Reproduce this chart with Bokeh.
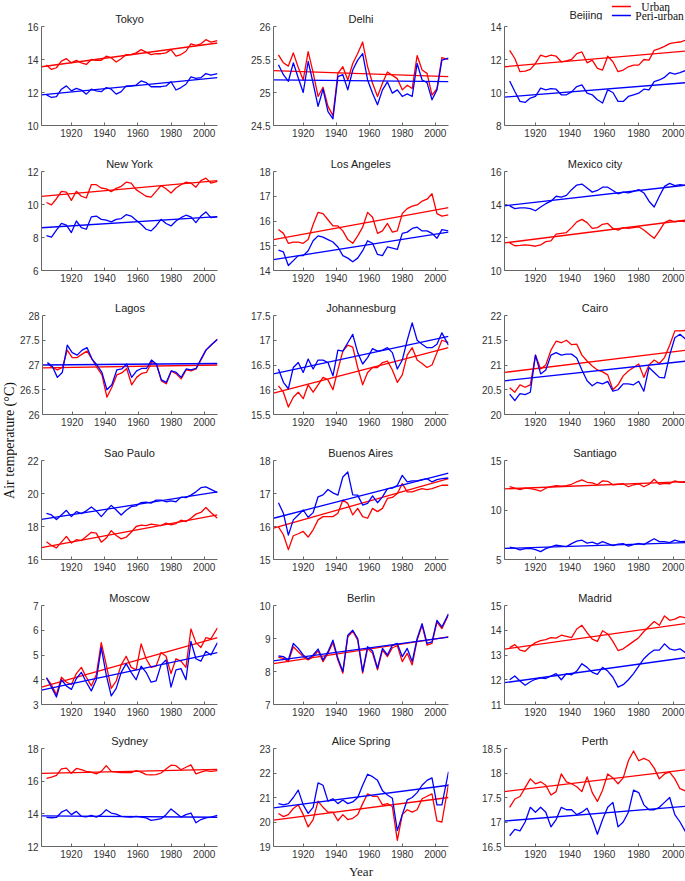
from math import pi
from bokeh.plotting import figure
from bokeh.layouts import row, column
from bokeh.models import FixedTicker, NumeralTickFormatter, Label, Range1d
from bokeh.core.properties import value
from bokeh.embed import file_html
from bokeh.resources import INLINE

# ---------------- data ----------------
years = [1905, 1908, 1911, 1914, 1917, 1920, 1923, 1926, 1929, 1932, 1935, 1938,
         1941, 1944, 1947, 1950, 1953, 1956, 1959, 1962, 1965, 1968, 1971, 1974,
         1977, 1980, 1983, 1986, 1989, 1992, 1995, 1998, 2001, 2004, 2008]
trend_years = [1902, 2008]
x_ticks = [1920, 1940, 1960, 1980, 2000]
series_labels = ["Urban", "Peri-urban"]

tokyo_urban = [13.66, 13.4, 13.5, 13.9, 14.05, 13.8, 13.95, 13.8, 13.7, 14.0, 13.95, 13.95, 14.2, 14.1, 13.85, 14.05, 14.3, 14.3, 14.4, 14.6, 14.45, 14.3, 14.35, 14.35, 14.4, 14.6, 14.2, 14.3, 14.5, 14.95, 14.85, 14.95, 15.2, 15.05, 15.15]
tokyo_peri = [11.86, 11.7, 11.75, 12.2, 12.4, 12.1, 12.25, 12.15, 11.9, 12.2, 12.1, 12.05, 12.3, 12.2, 11.9, 12.05, 12.4, 12.4, 12.45, 12.7, 12.6, 12.35, 12.35, 12.35, 12.4, 12.65, 12.15, 12.3, 12.5, 12.95, 12.85, 12.9, 13.15, 13.05, 13.15]
tokyo_trend_urban = [13.56, 15.0]
tokyo_trend_peri = [11.86, 12.9]

delhi_urban = [25.57, 25.45, 25.4, 25.6, 25.38, 25.19, 25.62, 25.3, 24.94, 25.08, 24.79, 24.65, 25.29, 25.39, 25.19, 25.44, 25.59, 25.765, 25.39, 25.14, 24.94, 25.14, 25.31, 25.26, 25.21, 25.04, 25.11, 25.06, 25.56, 25.34, 25.29, 24.96, 25.06, 25.53, 25.5]
delhi_peri = [25.42, 25.27, 25.17, 25.45, 25.22, 25.0, 25.47, 25.14, 24.79, 25.05, 24.71, 24.6, 25.24, 25.27, 25.04, 25.34, 25.49, 25.59, 25.19, 24.99, 24.815, 25.04, 25.16, 24.99, 25.04, 24.94, 24.98, 24.94, 25.44, 25.19, 25.15, 24.89, 25.04, 25.49, 25.52]
delhi_trend_urban = [25.33, 25.24]
delhi_trend_peri = [25.19, 25.165]

beijing_urban = [12.55, 12.06, 11.26, 11.3, 11.4, 11.76, 12.26, 12.16, 12.26, 12.2, 11.86, 11.92, 12.0, 12.36, 12.46, 11.8, 11.96, 11.46, 11.36, 12.2, 11.86, 11.26, 11.36, 11.56, 11.66, 11.66, 12.0, 11.96, 12.56, 12.66, 12.8, 12.96, 13.02, 13.06, 13.2]
beijing_peri = [10.7, 10.06, 9.46, 9.4, 9.66, 9.76, 10.26, 10.16, 10.24, 10.2, 9.86, 9.86, 10.04, 10.36, 10.46, 9.96, 9.86, 9.56, 9.36, 10.16, 10.0, 9.46, 9.46, 9.76, 9.86, 9.96, 10.2, 10.16, 10.66, 10.76, 10.92, 11.2, 11.12, 11.2, 11.36]
beijing_trend_urban = [11.56, 12.52]
beijing_trend_peri = [9.72, 10.6]

newyork_urban = [10.12, 9.98, 10.35, 10.8, 10.75, 10.25, 10.8, 10.5, 10.4, 11.2, 11.2, 11.0, 10.95, 10.78, 10.98, 11.1, 11.35, 11.3, 10.9, 10.7, 10.5, 10.45, 10.8, 11.15, 10.95, 10.7, 11.0, 11.2, 11.35, 11.3, 11.05, 11.45, 11.6, 11.3, 11.4]
newyork_peri = [8.12, 8.02, 8.45, 8.85, 8.75, 8.3, 9.0, 8.6, 8.5, 9.25, 9.3, 9.1, 9.05, 8.95, 9.1, 9.15, 9.38, 9.3, 9.05, 8.8, 8.5, 8.4, 8.7, 9.1, 8.85, 8.7, 9.0, 9.2, 9.35, 9.25, 8.9, 9.3, 9.55, 9.2, 9.25]
newyork_trend_urban = [10.49, 11.45]
newyork_trend_peri = [8.59, 9.27]

losangeles_urban = [15.66, 15.5, 15.1, 15.15, 15.15, 15.1, 15.25, 15.86, 16.35, 16.3, 16.05, 15.8, 15.8, 15.6, 15.25, 15.1, 15.4, 15.75, 16.35, 16.15, 15.5, 15.6, 15.9, 15.55, 15.6, 16.3, 16.5, 16.6, 16.65, 16.8, 16.88, 17.1, 16.3, 16.2, 16.25]
losangeles_peri = [14.82, 14.75, 14.2, 14.4, 14.6, 14.6, 14.8, 15.2, 15.4, 15.35, 15.25, 15.15, 14.95, 14.6, 14.5, 14.35, 14.5, 14.8, 15.2, 15.1, 14.65, 14.6, 14.95, 14.9, 14.85, 15.5, 15.55, 15.7, 15.75, 15.6, 15.6, 15.5, 15.3, 15.65, 15.6]
losangeles_trend_urban = [15.25, 16.54]
losangeles_trend_peri = [14.44, 15.55]

mexico_urban = [11.67, 11.5, 11.52, 11.55, 11.52, 11.47, 11.55, 11.75, 11.8, 12.2, 12.25, 12.3, 12.6, 12.95, 13.1, 12.9, 12.55, 12.6, 12.8, 12.85, 12.55, 12.45, 12.6, 12.55, 12.6, 12.65, 12.45, 12.2, 11.95, 12.4, 12.9, 13.05, 12.95, 13.0, 12.95]
mexico_peri = [13.92, 13.75, 13.8, 13.8, 13.75, 13.62, 13.85, 14.05, 14.2, 14.5, 14.45, 14.55, 14.9, 15.18, 15.24, 15.0, 14.75, 14.85, 15.05, 15.05, 14.85, 14.65, 14.75, 14.7, 14.8, 14.9, 14.7, 14.2, 13.85, 14.5, 15.1, 15.28, 15.15, 15.2, 15.15]
mexico_trend_urban = [11.67, 13.06]
mexico_trend_peri = [13.92, 15.18]

lagos_urban = [27.03, 26.95, 26.9, 26.95, 27.3, 27.15, 27.15, 27.22, 27.28, 27.12, 26.95, 26.8, 26.35, 26.55, 26.8, 26.84, 26.93, 26.6, 26.75, 26.83, 26.85, 27.05, 27.02, 26.68, 26.62, 26.88, 26.82, 26.72, 26.9, 26.88, 26.92, 27.1, 27.3, 27.4, 27.52]
lagos_peri = [27.05, 26.97, 26.75, 26.85, 27.4, 27.25, 27.2, 27.3, 27.35, 27.12, 27.0, 26.85, 26.5, 26.6, 26.9, 26.92, 27.02, 26.75, 26.88, 26.93, 26.93, 27.1, 27.02, 26.7, 26.65, 26.88, 26.85, 26.75, 26.92, 26.9, 26.93, 27.12, 27.3, 27.4, 27.52]
lagos_trend_urban = [26.94, 27.0]
lagos_trend_peri = [27.0, 27.03]

johannesburg_urban = [16.08, 15.95, 15.65, 15.85, 15.95, 15.82, 16.1, 15.95, 16.1, 16.25, 16.2, 16.0, 16.4, 16.78, 16.9, 16.86, 16.45, 16.1, 16.35, 16.45, 16.45, 16.55, 16.58, 16.4, 16.15, 16.3, 16.7, 16.85, 16.6, 16.53, 16.45, 16.5, 16.75, 17.0, 16.95]
johannesburg_peri = [16.42, 16.15, 16.02, 16.45, 16.55, 16.35, 16.62, 16.42, 16.6, 16.6, 16.55, 16.28, 16.8, 16.78, 16.95, 17.12, 16.75, 16.52, 16.65, 16.83, 16.78, 16.8, 16.85, 16.75, 16.42, 16.6, 17.0, 17.35, 17.0, 16.92, 16.85, 16.85, 16.92, 17.15, 16.9]
johannesburg_trend_urban = [15.93, 16.85]
johannesburg_trend_peri = [16.32, 17.08]

cairo_urban = [20.54, 20.45, 20.6, 20.55, 20.6, 21.2, 20.92, 21.0, 21.3, 21.48, 21.45, 21.5, 21.41, 21.42, 21.2, 21.08, 20.98, 20.9, 20.86, 20.8, 20.5, 20.6, 20.78, 20.88, 20.95, 21.02, 20.75, 21.0, 21.1, 21.03, 21.15, 21.4, 21.69, 21.69, 21.7]
cairo_peri = [20.41, 20.28, 20.42, 20.4, 20.45, 21.2, 20.82, 20.9, 21.2, 21.25, 21.2, 21.22, 21.22, 21.14, 20.9, 20.68, 20.58, 20.65, 20.62, 20.67, 20.47, 20.5, 20.62, 20.62, 20.6, 20.67, 20.47, 20.95, 20.85, 20.75, 20.74, 21.2, 21.55, 21.62, 21.5]
cairo_trend_urban = [20.85, 21.3]
cairo_trend_peri = [20.68, 21.08]

saopaulo_urban = [17.07, 16.85, 16.7, 17.05, 17.4, 17.0, 17.2, 17.15, 17.4, 17.65, 17.6, 17.05, 17.3, 17.75, 17.45, 17.25, 17.35, 17.65, 18.0, 18.08, 18.05, 18.15, 18.1, 18.05, 18.2, 18.1, 18.18, 18.38, 18.3, 18.5, 18.75, 18.85, 19.15, 18.85, 18.5]
saopaulo_peri = [18.8, 18.7, 18.42, 18.7, 18.98, 18.6, 18.9, 18.78, 18.95, 19.18, 18.95, 18.6, 18.95, 19.28, 19.0, 18.7, 18.98, 19.2, 19.25, 19.45, 19.48, 19.42, 19.6, 19.6, 19.5, 19.55, 19.5, 19.78, 19.75, 19.9, 20.1, 20.35, 20.4, 20.25, 20.05]
saopaulo_trend_urban = [16.72, 18.7]
saopaulo_trend_peri = [18.43, 20.1]

buenosaires_urban = [15.99, 15.75, 15.3, 15.72, 15.78, 15.85, 15.68, 15.9, 16.2, 16.3, 16.3, 16.3, 16.4, 16.8, 16.7, 16.35, 16.55, 16.3, 16.25, 16.55, 16.45, 16.55, 16.85, 16.88, 17.0, 17.3, 17.05, 17.05, 17.1, 17.15, 17.12, 17.15, 17.2, 17.25, 17.25]
buenosaires_peri = [16.72, 16.4, 15.74, 16.2, 16.35, 16.5, 16.28, 16.42, 16.9, 16.96, 17.12, 17.02, 16.95, 17.5, 17.65, 16.96, 16.95, 16.65, 16.7, 16.93, 16.72, 16.9, 17.15, 17.16, 17.25, 17.55, 17.35, 17.38, 17.38, 17.42, 17.45, 17.35, 17.42, 17.45, 17.47]
buenosaires_trend_urban = [15.95, 17.45]
buenosaires_trend_peri = [16.25, 17.62]

santiago_urban = [12.36, 12.2, 12.05, 12.2, 12.15, 12.05, 11.9, 12.2, 12.35, 12.45, 12.4, 12.45, 12.6, 12.85, 13.05, 12.8, 12.75, 12.55, 12.95, 12.9, 12.55, 12.6, 12.65, 12.35, 12.55, 12.65, 12.35, 12.6, 13.1, 12.6, 12.7, 12.65, 12.95, 12.8, 12.8]
santiago_peri = [6.25, 6.15, 5.98, 6.1, 6.12, 6.0, 5.8, 6.1, 6.28, 6.45, 6.38, 6.3, 6.6, 6.85, 6.95, 6.65, 6.75, 6.55, 6.8, 6.6, 6.4, 6.55, 6.6, 6.35, 6.5, 6.62, 6.5, 6.8, 7.1, 6.8, 6.8, 6.7, 6.95, 6.8, 6.85]
santiago_trend_urban = [12.13, 12.87]
santiago_trend_peri = [6.12, 6.72]

moscow_urban = [4.08, 3.8, 3.4, 4.1, 3.9, 3.81, 4.25, 4.5, 4.1, 3.75, 4.2, 5.5, 4.6, 3.65, 3.95, 4.6, 4.95, 4.5, 4.4, 5.45, 4.85, 4.5, 4.55, 5.1, 4.95, 4.25, 4.85, 4.75, 4.5, 6.05, 5.5, 5.3, 5.7, 5.65, 6.1]
moscow_peri = [4.08, 3.7, 3.3, 4.0, 3.75, 3.61, 4.05, 4.3, 3.9, 3.55, 4.0, 5.3, 4.2, 3.35, 3.65, 4.3, 4.65, 4.3, 4.0, 4.55, 4.3, 3.9, 3.95, 4.6, 4.8, 3.7, 4.4, 4.45, 4.0, 5.55, 4.85, 4.75, 5.15, 5.0, 5.5]
moscow_trend_urban = [3.7, 5.7]
moscow_trend_peri = [3.58, 5.1]

berlin_urban = [8.43, 8.4, 8.3, 8.75, 8.6, 8.45, 8.35, 8.45, 8.62, 8.3, 8.55, 8.88, 8.35, 7.95, 9.05, 9.22, 8.95, 7.95, 8.7, 8.55, 8.05, 8.65, 8.45, 8.72, 8.78, 8.3, 8.55, 8.2, 8.95, 9.4, 8.8, 8.85, 9.5, 9.3, 9.72]
berlin_peri = [8.47, 8.45, 8.35, 8.85, 8.7, 8.5, 8.38, 8.5, 8.68, 8.35, 8.6, 8.95, 8.4, 8.0, 9.1, 9.25, 9.0, 8.0, 8.75, 8.62, 8.1, 8.7, 8.5, 8.8, 8.85, 8.45, 8.7, 8.3, 9.0, 9.45, 8.85, 8.9, 9.55, 9.35, 9.75]
berlin_trend_urban = [8.24, 9.05]
berlin_trend_peri = [8.32, 9.04]

madrid_urban = [13.3, 13.42, 13.2, 13.15, 13.35, 13.5, 13.58, 13.62, 13.7, 13.68, 13.8, 13.75, 13.7, 14.05, 14.2, 13.9, 13.64, 13.55, 13.98, 13.85, 13.55, 13.18, 13.25, 13.4, 13.55, 13.7, 13.95, 14.15, 14.35, 14.2, 14.58, 14.4, 14.45, 14.55, 14.5]
madrid_peri = [12.0, 12.15, 11.95, 11.78, 11.92, 12.02, 12.08, 12.05, 12.15, 12.25, 12.0, 12.25, 12.2, 12.35, 12.65, 12.5, 12.3, 12.22, 12.5, 12.35, 12.1, 11.7, 11.8, 12.0, 12.25, 12.55, 12.85, 13.05, 13.2, 13.2, 13.45, 13.25, 13.2, 13.25, 13.05]
madrid_trend_urban = [13.24, 14.28]
madrid_trend_peri = [11.88, 12.9]

sydney_urban = [16.17, 16.25, 16.35, 16.75, 16.8, 16.48, 16.78, 16.7, 16.6, 16.55, 16.45, 16.6, 16.95, 16.6, 16.55, 16.52, 16.52, 16.52, 16.65, 16.55, 16.4, 16.38, 16.4, 16.5, 16.75, 16.98, 16.95, 16.7, 16.85, 17.0, 16.45, 16.55, 16.65, 16.6, 16.65]
sydney_peri = [13.78, 13.76, 13.78, 14.1, 14.25, 13.95, 14.15, 13.85, 13.82, 13.9, 13.8, 13.95, 14.25, 14.05, 13.98, 13.85, 13.82, 13.8, 13.85, 13.8, 13.75, 13.6, 13.65, 13.7, 13.95, 14.3, 14.05, 13.8, 13.95, 14.05, 13.45, 13.65, 13.75, 13.8, 13.9]
sydney_trend_urban = [16.48, 16.72]
sydney_trend_peri = [13.87, 13.79]

alice_urban = [20.35, 20.22, 20.3, 20.55, 20.7, 20.3, 19.8, 20.1, 20.85, 20.6, 20.4, 20.4, 20.05, 20.3, 20.1, 20.15, 20.3, 20.75, 21.15, 21.05, 21.05, 20.7, 20.75, 20.63, 19.25, 20.3, 20.5, 20.4, 20.5, 20.95, 21.05, 21.15, 20.05, 20.0, 21.55]
alice_peri = [20.75, 20.7, 20.75, 21.0, 21.3, 20.7, 20.35, 20.6, 21.6, 21.5, 20.85, 20.95, 20.75, 20.9, 20.75, 20.82, 21.0, 21.5, 21.95, 21.85, 21.7, 21.28, 21.1, 20.97, 19.65, 20.3, 20.9, 21.0, 21.2, 21.5, 21.7, 21.8, 20.7, 20.7, 22.05]
alice_trend_urban = [20.08, 21.0]
alice_trend_peri = [20.58, 21.5]

perth_urban = [17.3, 17.47, 17.52, 17.7, 17.88, 17.78, 17.82, 17.75, 17.55, 17.62, 17.98, 17.82, 17.78, 17.72, 17.62, 17.92, 17.6, 17.42, 17.65, 17.98, 17.9, 17.78, 17.9, 18.25, 18.45, 18.25, 18.3, 18.25, 18.1, 17.88, 17.98, 18.02, 17.88, 17.68, 17.62]
perth_peri = [16.72, 16.85, 16.82, 17.0, 17.3, 17.2, 17.3, 17.2, 16.9, 17.05, 17.3, 17.25, 17.25, 17.15, 17.2, 17.28, 17.05, 16.75, 17.05, 17.3, 17.4, 16.9, 17.0, 17.2, 17.65, 17.6, 17.35, 17.25, 17.25, 17.3, 17.4, 17.5, 17.15, 17.0, 16.75]
perth_trend_urban = [17.62, 18.07]
perth_trend_peri = [17.02, 17.32]

city_names = ["Tokyo", "Delhi", "Beijing", "New York", "Los Angeles", "Mexico city",
              "Lagos", "Johannesburg", "Cairo", "Sao Paulo", "Buenos Aires", "Santiago",
              "Moscow", "Berlin", "Madrid", "Sydney", "Alice Spring", "Perth"]
urban_series = [tokyo_urban, delhi_urban, beijing_urban, newyork_urban, losangeles_urban, mexico_urban,
                lagos_urban, johannesburg_urban, cairo_urban, saopaulo_urban, buenosaires_urban, santiago_urban,
                moscow_urban, berlin_urban, madrid_urban, sydney_urban, alice_urban, perth_urban]
peri_series = [tokyo_peri, delhi_peri, beijing_peri, newyork_peri, losangeles_peri, mexico_peri,
               lagos_peri, johannesburg_peri, cairo_peri, saopaulo_peri, buenosaires_peri, santiago_peri,
               moscow_peri, berlin_peri, madrid_peri, sydney_peri, alice_peri, perth_peri]
urban_trends = [tokyo_trend_urban, delhi_trend_urban, beijing_trend_urban, newyork_trend_urban,
                losangeles_trend_urban, mexico_trend_urban, lagos_trend_urban, johannesburg_trend_urban,
                cairo_trend_urban, saopaulo_trend_urban, buenosaires_trend_urban, santiago_trend_urban,
                moscow_trend_urban, berlin_trend_urban, madrid_trend_urban, sydney_trend_urban,
                alice_trend_urban, perth_trend_urban]
peri_trends = [tokyo_trend_peri, delhi_trend_peri, beijing_trend_peri, newyork_trend_peri,
               losangeles_trend_peri, mexico_trend_peri, lagos_trend_peri, johannesburg_trend_peri,
               cairo_trend_peri, saopaulo_trend_peri, buenosaires_trend_peri, santiago_trend_peri,
               moscow_trend_peri, berlin_trend_peri, madrid_trend_peri, sydney_trend_peri,
               alice_trend_peri, perth_trend_peri]
y_ticks = [[10, 12, 14, 16], [24.5, 25, 25.5, 26], [8, 10, 12, 14],
           [6, 8, 10, 12], [14, 15, 16, 17, 18], [10, 12, 14, 16],
           [26, 26.5, 27, 27.5, 28], [15.5, 16, 16.5, 17, 17.5], [20, 20.5, 21, 21.5, 22],
           [16, 18, 20, 22], [15, 16, 17, 18], [5, 10, 15],
           [3, 4, 5, 6, 7], [7, 8, 9, 10], [11, 12, 13, 14, 15],
           [12, 14, 16, 18], [19, 20, 21, 22, 23], [16.5, 17, 17.5, 18, 18.5]]

# ---------------- layout geometry (pixels) ----------------
ylab_width = 17
col_width = [228, 231, 209]
col_left = [24, 28, 28]
col_right = [28, 28, 0]
col_xend = [2008, 2008, 2007.2]
row_height = [145, 145, 144, 145, 144, 158]
row_top = [26, 26, 25, 26, 26, 25]
FRAME_H = 99
LEGEND_H = 20          # strip above the Beijing panel holding its title and the legend

RED = "#ff0000"
BLUE = "#0000ff"
AXIS = "#666666"
TXT = "#222222"


def make_panel(i, c, width, height, top, bottom, with_title=True):
    ticks = y_ticks[i]
    p = figure(width=width, height=height,
               x_range=Range1d(1902, col_xend[c]),
               y_range=Range1d(ticks[0], ticks[-1]),
               toolbar_location=None, output_backend="svg",
               min_border_left=col_left[c], min_border_right=col_right[c],
               min_border_top=top, min_border_bottom=bottom)
    if with_title:
        p.title.text = city_names[i]
        p.title.align = "center"
        p.title.text_font = "Liberation Sans"
        p.title.text_font_size = "11px"
        p.title.text_font_style = "normal"
        p.title.text_color = TXT
        p.title.standoff = 4
    p.outline_line_color = None
    p.xgrid.visible = False
    p.ygrid.visible = False
    p.line(years, urban_series[i], line_color=RED, line_width=1.3, line_join="round")
    p.line(trend_years, urban_trends[i], line_color=RED, line_width=1.3)
    p.line(years, peri_series[i], line_color=BLUE, line_width=1.3, line_join="round")
    p.line(trend_years, peri_trends[i], line_color=BLUE, line_width=1.3)
    p.xaxis.ticker = FixedTicker(ticks=x_ticks)
    p.yaxis.ticker = FixedTicker(ticks=ticks)
    p.yaxis.formatter = NumeralTickFormatter(format="0.[0]")
    for ax in (p.xaxis[0], p.yaxis[0]):
        ax.axis_line_color = AXIS
        ax.major_tick_line_color = AXIS
        ax.major_tick_in = 3
        ax.major_tick_out = 0
        ax.minor_tick_line_color = None
        ax.major_label_text_font = "Liberation Sans"
        ax.major_label_text_font_size = "10px"
        ax.major_label_text_color = "#333333"
        ax.major_label_standoff = 3
    return p


grid_rows = []
for r in range(6):
    cells = []
    for c in range(3):
        i = r * 3 + c
        bottom = row_height[r] - row_top[r] - FRAME_H
        if i == 2:
            # Beijing: title + legend live in a strip figure above the panel
            strip = figure(width=col_width[c], height=LEGEND_H,
                           x_range=Range1d(0, col_width[c]), y_range=Range1d(LEGEND_H, 0),
                           toolbar_location=None, output_backend="svg", min_border=0)
            strip.axis.visible = False
            strip.xgrid.visible = False
            strip.ygrid.visible = False
            strip.outline_line_color = None
            strip.segment(x0=[124, 124], y0=[6, 15], x1=[146, 146], y1=[6, 15],
                          line_color=[RED, BLUE], line_width=1.3)
            strip.text(x=[158, 151], y=[6, 15], text=series_labels,
                       text_font=value("Liberation Serif"), text_font_size="11.5px",
                       text_baseline="middle", text_align="left", text_color="#111111")
            strip.add_layout(Label(x=94, y=14, text=city_names[i], text_align="center",
                                   text_baseline="middle", text_font="Liberation Sans",
                                   text_font_size="11px", text_color=TXT))
            p = make_panel(i, c, col_width[c], row_height[r] - LEGEND_H,
                           row_top[r] - LEGEND_H, bottom, with_title=False)
            cells.append(column(strip, p))
        else:
            p = make_panel(i, c, col_width[c], row_height[r], row_top[r], bottom)
            if r == 5 and c == 1:
                p.xaxis.axis_label = "Year"
                p.xaxis.axis_label_text_font = "Liberation Serif"
                p.xaxis.axis_label_text_font_size = "13px"
                p.xaxis.axis_label_text_font_style = "normal"
                p.xaxis.axis_label_text_color = TXT
                p.xaxis.axis_label_standoff = 3
            cells.append(p)
    grid_rows.append(row(*cells))

# y label column
total_h = sum(row_height)
ylab = figure(width=ylab_width, height=total_h, x_range=Range1d(0, ylab_width),
              y_range=Range1d(0, total_h), toolbar_location=None,
              output_backend="svg", min_border=0)
ylab.xaxis.visible = False
ylab.yaxis.visible = False
ylab.xgrid.visible = False
ylab.ygrid.visible = False
ylab.outline_line_color = None
ylab.add_layout(Label(x=9, y=total_h - 440, text="Air temperature (°C)",
                      angle=pi / 2, text_align="center", text_baseline="middle",
                      text_font="Liberation Serif", text_font_size="14px",
                      text_color="#111111"))

root = row(ylab, column(*grid_rows))

open("out.html", "w").write(file_html(root, INLINE))
